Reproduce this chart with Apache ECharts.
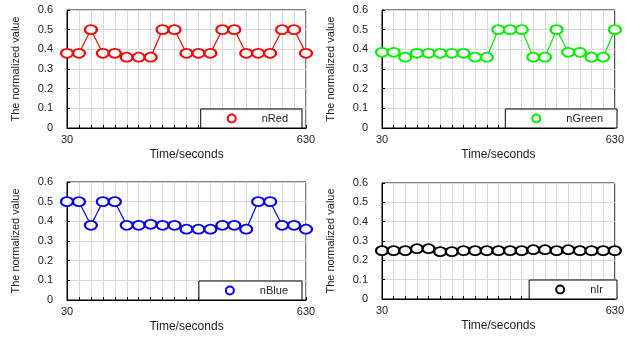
<!DOCTYPE html>
<html>
<head>
<meta charset="utf-8">
<script src="https://cdn.jsdelivr.net/npm/echarts@6/dist/echarts.min.js"></script>
<style>
  html, body { margin: 0; padding: 0; background: #fff; }
  #chart { width: 627px; height: 339px; }
</style>
</head>
<body>
<div id="chart"></div>
<script>
// time in seconds, one sample every 30 s
const times = [30, 60, 90, 120, 150, 180, 210, 240, 270, 300, 330, 360, 390, 420, 450, 480, 510, 540, 570, 600, 630];

const nRed = [0.38, 0.38, 0.50, 0.38, 0.38, 0.36, 0.36, 0.36, 0.50, 0.50, 0.38, 0.38, 0.38, 0.50, 0.50, 0.38, 0.38, 0.38, 0.50, 0.50, 0.38];
const nGreen = [0.385, 0.385, 0.36, 0.38, 0.38, 0.38, 0.38, 0.38, 0.36, 0.36, 0.50, 0.50, 0.50, 0.36, 0.36, 0.50, 0.385, 0.385, 0.36, 0.36, 0.50];
const nBlue = [0.50, 0.50, 0.38, 0.50, 0.50, 0.38, 0.38, 0.385, 0.38, 0.38, 0.36, 0.36, 0.36, 0.38, 0.38, 0.36, 0.50, 0.50, 0.38, 0.38, 0.36];
const nIr = [0.25, 0.25, 0.25, 0.26, 0.26, 0.245, 0.245, 0.25, 0.25, 0.25, 0.25, 0.25, 0.25, 0.255, 0.255, 0.25, 0.255, 0.25, 0.25, 0.25, 0.25];

const yTicks = [0, 0.1, 0.2, 0.3, 0.4, 0.5, 0.6];
const xTickLabels = [30, 630];

const panels = [
  { name: 'nRed', data: nRed, color: '#ff0000', grid: { left: 67, top: 10, width: 239, height: 118 } },
  { name: 'nGreen', data: nGreen, color: '#00ee00', grid: { left: 382, top: 10, width: 239, height: 118 } },
  { name: 'nBlue', data: nBlue, color: '#0000ff', grid: { left: 67, top: 182, width: 239, height: 118 } },
  { name: 'nIr', data: nIr, color: '#000000', grid: { left: 382, top: 183, width: 239, height: 116 } },
];

const chart = echarts.init(document.getElementById('chart'));
const font = 'Liberation Sans, Arial, sans-serif';

const option = {
  backgroundColor: '#fff',
  animation: false,
  grid: panels.map((p) => ({ ...p.grid, show: true, borderColor: '#000', borderWidth: 1, backgroundColor: 'transparent' })),
  xAxis: panels.map((p, i) => ({
    type: 'value',
    gridIndex: i,
    min: 30,
    max: 630,
    interval: 30,
    name: 'Time/seconds',
    nameLocation: 'middle',
    nameGap: 21,
    nameTextStyle: { fontFamily: font, fontSize: 12, color: '#222' },
    axisLine: { lineStyle: { color: '#000' } },
    axisTick: { inside: true, length: 3, lineStyle: { color: '#000' } },
    axisLabel: {
      margin: 6,
      fontFamily: font,
      fontSize: 11,
      color: '#222',
      formatter: (v) => (xTickLabels.includes(v) ? String(v) : ''),
    },
    splitLine: { show: true, lineStyle: { color: '#d9d9d9', width: 1 } },
  })),
  yAxis: panels.map((p, i) => ({
    type: 'value',
    gridIndex: i,
    min: yTicks[0],
    max: yTicks[yTicks.length - 1],
    interval: 0.1,
    name: 'The normalized value',
    nameLocation: 'middle',
    nameGap: 46,
    nameTextStyle: { fontFamily: font, fontSize: 11, color: '#222' },
    axisLine: { show: true, lineStyle: { color: '#000' } },
    axisTick: { show: true, inside: true, length: 3, lineStyle: { color: '#000' } },
    axisLabel: {
      margin: 14,
      fontFamily: font,
      fontSize: 11,
      color: '#222',
      formatter: (v) => (v === 0 ? '0' : v.toFixed(1)),
    },
    splitLine: { show: true, lineStyle: { color: '#d9d9d9', width: 1 } },
  })),
  legend: panels.map((p) => ({
    data: [{ name: p.name, icon: 'emptyCircle' }],
    right: 627 - (p.grid.left + p.grid.width) + 4,
    top: p.grid.top + p.grid.height - 19,
    padding: [4, 14, 4, 26],
    borderColor: '#000',
    borderWidth: 1,
    backgroundColor: '#fff',
    itemWidth: 10,
    itemHeight: 8,
    itemStyle: { borderWidth: 1.5 },
    textStyle: { fontFamily: font, fontSize: 11, color: '#222', padding: [0, 0, 0, 20] },
  })),
  series: panels.map((p, i) => ({
    name: p.name,
    type: 'line',
    xAxisIndex: i,
    yAxisIndex: i,
    data: times.map((t, k) => [t, p.data[k]]),
    symbol: 'emptyCircle',
    symbolSize: [12, 9],
    color: p.color,
    lineStyle: { color: p.color, width: 1.2 },
    itemStyle: { color: p.color, borderWidth: 1.5 },
  })),
};

chart.setOption(option);
</script>
</body>
</html>
